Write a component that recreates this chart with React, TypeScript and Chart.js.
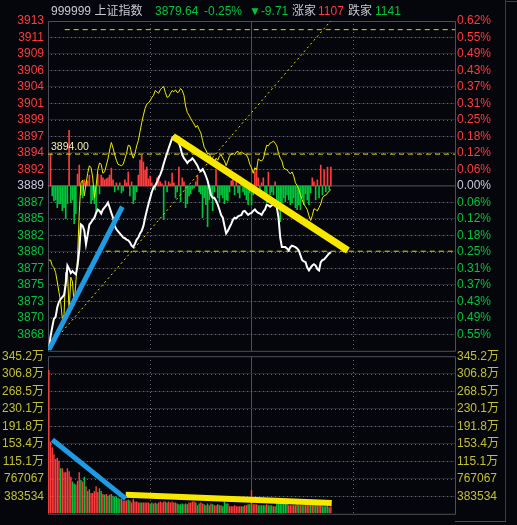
import React, { useEffect, useRef } from 'react';
import { Chart, registerables } from 'chart.js';

Chart.register(...registerables);

// ---------------- data ----------------
const PREV_CLOSE = 3889.35;
const RANGE_PCT = 0.62;
const X_MIN = -0.5;
const X_MAX = 240.5;

const priceTickLabels = ['3913', '3911', '3909', '3906', '3904', '3901', '3899', '3897', '3894', '3892', '3889', '3887', '3885', '3882', '3880', '3877', '3875', '3873', '3870', '3868', ''];
const pctTickLabels = ['0.62%', '0.55%', '0.49%', '0.43%', '0.37%', '0.31%', '0.25%', '0.18%', '0.12%', '0.06%', '0.00%', '0.06%', '0.12%', '0.18%', '0.25%', '0.31%', '0.37%', '0.43%', '0.49%', '0.55%', ''];
const VOL_STEP = 383534;
const volTickLabels = ['345.2万', '306.8万', '268.5万', '230.1万', '191.8万', '153.4万', '115.1万', '767067', '383534', ''];
const MOM_LIMIT = 166;
const timeGridDotted = [60, 180];
const timeGridSolid = [120];

// weighted index (white)
const indexPrice = [
  3865.4, 3867.3, 3868.7, 3869.9, 3870.2, 3871.6, 3872.4, 3872.8, 3873.1, 3873.4,
  3875.0, 3877.7, 3877.2, 3876.6, 3876.9, 3876.6, 3876.4, 3877.7, 3879.9, 3883.7,
  3883.5, 3882.8, 3880.8, 3882.2, 3883.7, 3884.0, 3884.4, 3884.7, 3885.4, 3885.9,
  3885.7, 3885.3, 3885.9, 3886.2, 3886.5, 3886.9, 3886.2, 3885.4, 3884.7, 3883.5,
  3883.0, 3882.7, 3882.4, 3882.1, 3881.8, 3881.7, 3881.5, 3881.4, 3881.1, 3880.6,
  3880.4, 3880.9, 3881.5, 3881.8, 3882.4, 3882.8, 3883.5, 3884.7, 3885.7, 3886.7,
  3887.6, 3888.5, 3889.1, 3889.4, 3889.9, 3890.5, 3891.0, 3891.7, 3892.6, 3893.4,
  3894.1, 3894.9, 3895.6, 3896.3, 3896.6, 3896.6, 3896.3, 3895.6, 3894.9, 3893.9,
  3893.4, 3893.1, 3892.7, 3893.0, 3893.1, 3893.4, 3893.1, 3892.7, 3892.3, 3891.7,
  3891.5, 3891.8, 3891.4, 3890.8, 3890.1, 3889.1, 3888.0, 3887.6, 3887.6, 3887.2,
  3886.6, 3885.9, 3885.1, 3884.7, 3883.5, 3882.4, 3882.8, 3883.3, 3883.8, 3884.4,
  3884.7, 3884.6, 3884.9, 3885.0, 3885.1, 3885.6, 3885.7, 3885.4, 3885.1, 3885.3,
  3885.4, 3885.7, 3885.9, 3885.6, 3885.4, 3885.3, 3885.1, 3885.6, 3885.9, 3886.6,
  3886.5, 3886.3, 3886.5, 3886.6, 3886.5, 3886.2, 3884.7, 3881.8, 3880.4, 3880.4,
  3880.4, 3880.2, 3879.9, 3880.4, 3880.6, 3880.5, 3880.4, 3880.2, 3879.9, 3879.2,
  3878.5, 3878.3, 3878.2, 3877.4, 3877.0, 3877.4, 3877.7, 3877.9, 3877.7, 3877.2,
  3877.0, 3878.2, 3878.5, 3878.6, 3878.9, 3879.2, 3879.5, 3879.64,
];

// unweighted index (yellow)
const unweightedPrice = [
  3878.5, 3878.5, 3877.7, 3877.4, 3876.7, 3875.3, 3873.8, 3872.4, 3869.9, 3870.5,
  3876.7, 3877.0, 3870.9, 3876.0, 3875.3, 3871.9, 3875.3, 3878.9, 3885.4, 3889.8,
  3890.2, 3887.9, 3889.6, 3891.2, 3892.3, 3892.0, 3890.5, 3887.6, 3889.4, 3891.7,
  3892.7, 3892.5, 3891.2, 3891.4, 3892.3, 3893.3, 3894.6, 3895.7, 3894.9, 3893.9,
  3893.1, 3892.5, 3892.4, 3892.3, 3892.5, 3893.3, 3894.1, 3895.3, 3895.2, 3894.1,
  3893.4, 3894.1, 3895.2, 3896.0, 3897.3, 3898.6, 3899.7, 3900.7, 3901.3, 3901.5,
  3901.8, 3902.3, 3902.6, 3903.3, 3903.1, 3902.9, 3903.4, 3903.7, 3903.9, 3903.0,
  3902.3, 3902.4, 3902.9, 3903.3, 3903.1, 3903.4, 3903.0, 3903.1, 3903.6, 3903.3,
  3902.6, 3901.0, 3900.1, 3899.7, 3899.2, 3898.8, 3898.4, 3897.9, 3898.2, 3897.6,
  3897.1, 3896.0, 3895.0, 3894.6, 3894.0, 3894.1, 3893.4, 3892.4, 3892.7, 3893.4,
  3893.1, 3893.7, 3893.9, 3893.4, 3893.0, 3892.3, 3893.0, 3893.7, 3894.0, 3894.1,
  3893.9, 3894.3, 3894.4, 3894.1, 3894.3, 3894.1, 3894.0, 3893.9, 3893.4, 3892.5,
  3892.0, 3891.2, 3892.0, 3891.7, 3893.3, 3893.1, 3893.0, 3893.3, 3894.4, 3895.3,
  3895.2, 3895.6, 3895.7, 3895.9, 3895.6, 3895.2, 3894.1, 3893.4, 3893.0, 3892.0,
  3891.8, 3891.7, 3891.4, 3891.1, 3891.4, 3890.8, 3889.8, 3889.4, 3888.9, 3888.0,
  3887.3, 3886.7, 3886.3, 3885.9, 3885.0, 3884.3, 3885.0, 3886.0, 3885.9, 3885.7,
  3886.2, 3886.7, 3887.6, 3887.9, 3888.0, 3888.3, 3888.6, 3888.8,
];

// buy/sell momentum bars (red up, green down)
const momentum = [
  0, 32, -10, -15, -14, -22, -18, -18, -25, -22,
  -33, -18, 56, -17, -14, -38, -28, 12, 21, -9,
  -12, 6, 4, 5, 11, -18, -14, -18, -28, 12,
  -8, 11, 8, 6, 7, 8, 11, 18, 6, -6,
  3, -4, 3, -7, -5, 6, 3, 14, -10, 4,
  -18, -14, -6, 11, 26, 31, 24, 16, 19, 7,
  10, 3, -3, -4, 8, 10, 4, 2, -34, 5,
  -6, 4, 2, 13, 3, -12, -6, 19, -16, 8,
  4, -22, -18, -10, -8, -3, -2, 4, 11, -6,
  -8, -32, -12, -19, -41, -14, -9, -25, -6, 16,
  -12, -16, -9, -12, -18, -14, -15, -6, 5, 10,
  -9, 5, -7, -12, 4, -6, -9, -14, -19, -7,
  -19, -9, 14, 18, 8, -7, 3, 8, -14, -17,
  14, -9, -6, -9, 4, -14, -21, -36, -17, -12,
  -16, -9, -14, -19, -17, -12, -22, -24, -19, -24,
  -12, -19, -8, -14, -19, -7, 8, 4, -14, 6,
  -12, 21, -9, 16, -6, 19, -4, 19,
];

// volume per minute (hands)
const volume = [
  3151000, 1576000, 1451000, 1306000, 1202000, 1223000, 1161000, 995000, 995000, 912000,
  912000, 995000, 933000, 809000, 705000, 663000, 643000, 726000, 912000, 746000,
  705000, 809000, 601000, 498000, 539000, 456000, 456000, 498000, 601000, 477000,
  560000, 498000, 435000, 415000, 435000, 394000, 415000, 435000, 394000, 373000,
  373000, 352000, 332000, 332000, 290000, 290000, 290000, 311000, 290000, 249000,
  332000, 270000, 270000, 249000, 249000, 249000, 249000, 249000, 249000, 249000,
  228000, 249000, 228000, 249000, 228000, 249000, 270000, 249000, 270000, 270000,
  249000, 270000, 249000, 270000, 249000, 249000, 228000, 207000, 207000, 228000,
  207000, 228000, 207000, 249000, 249000, 270000, 270000, 249000, 187000, 228000,
  249000, 228000, 207000, 187000, 228000, 187000, 228000, 207000, 187000, 187000,
  207000, 187000, 187000, 166000, 270000, 228000, 228000, 166000, 166000, 166000,
  187000, 166000, 166000, 166000, 166000, 166000, 187000, 187000, 207000, 207000,
  518000, 207000, 207000, 207000, 187000, 187000, 187000, 187000, 187000, 207000,
  187000, 187000, 187000, 166000, 166000, 249000, 249000, 249000, 249000, 249000,
  249000, 249000, 187000, 187000, 187000, 187000, 187000, 207000, 187000, 187000,
  187000, 187000, 187000, 187000, 187000, 187000, 187000, 187000, 187000, 187000,
  187000, 187000, 166000, 166000, 166000, 187000, 145000, 166000,
];

// 1 = up minute (red), 0 = down minute (green)
const volumeUp = [
  1, 1, 1, 1, 1, 1, 1, 0, 1, 1,
  1, 1, 1, 1, 0, 0, 1, 1, 1, 0,
  1, 0, 1, 1, 0, 1, 1, 1, 1, 1,
  0, 0, 1, 0, 1, 0, 0, 1, 0, 0,
  0, 0, 1, 0, 1, 1, 1, 0, 1, 1,
  1, 1, 1, 1, 0, 1, 1, 1, 1, 1,
  0, 0, 1, 1, 0, 1, 1, 1, 1, 1,
  0, 1, 1, 1, 1, 0, 1, 0, 0, 0,
  1, 0, 0, 1, 1, 1, 1, 0, 1, 0,
  1, 1, 0, 1, 0, 0, 1, 0, 1, 1,
  0, 0, 1, 0, 0, 0, 1, 1, 1, 1,
  1, 1, 1, 1, 1, 0, 1, 1, 0, 0,
  1, 1, 1, 1, 0, 0, 0, 0, 0, 1,
  0, 0, 1, 0, 1, 0, 0, 0, 0, 0,
  0, 0, 1, 1, 1, 1, 0, 1, 0, 1,
  0, 1, 0, 1, 1, 0, 1, 0, 1, 0,
  1, 1, 0, 0, 0, 1, 0, 1,
];

// user-drawn annotation lines: [minuteIndex, value]
const MARK_LEVEL = 3894.0;
const levelLine = [[-0.5, 3894.0], [240.5, 3894.0]];
const upperDashLine = [[9.4, 3912.2], [240.5, 3912.2]];
const lowerDashLine = [[33.7, 3879.8], [240.5, 3879.8]];
const diagonalLine = [[7.8, 3868.0], [167.7, 3913.7]];
const blueTrend = [[0.1, 3865.4], [43.5, 3886.3]];
const yellowTrend = [[73.5, 3896.6], [177.1, 3879.9]];
const volBlueTrend = [[2.1, 1623000], [45.5, 332000]];
const volYellowTrend = [[45.5, 415000], [167.5, 238000]];

// ---------------- styles ----------------
const BG = '#05050c';
const GRID = '#64646f';
const GRID_FAINT = '#24242c';
const FRAME = '#4e4e56';
const RED = '#ff3b3b';
const GREEN = '#00c43c';
const NEUTRAL = '#c8c8dc';
const VOL_LABEL = '#c0c032';
const FONT = "'Liberation Sans', Arial, 'Noto Sans CJK SC', sans-serif";

const toXY = (pairs: number[][]) => pairs.map(([x, y]) => ({ x, y }));

const framePlugin = {
  id: 'frame',
  beforeDatasetsDraw(chart: any) {
    const { ctx, chartArea } = chart;
    const { left, right, top, bottom } = chartArea;
    ctx.save();
    ctx.strokeStyle = FRAME;
    ctx.lineWidth = 1;
    ctx.beginPath();
    ctx.moveTo(left + 0.5, top + 0.5);
    ctx.lineTo(right + 0.5, top + 0.5);
    ctx.lineTo(right + 0.5, bottom + 0.5);
    ctx.lineTo(left + 0.5, bottom + 0.5);
    ctx.closePath();
    ctx.stroke();
    ctx.restore();
  },
};

// dotted grid (single-pixel dots) at the axis tick values and the time quarters
const dottedGridPlugin = (yScaleId: string, yValues: number[]) => ({
  id: 'dottedGrid',
  beforeDatasetsDraw(chart: any) {
    const { ctx, chartArea, scales } = chart;
    const { left, right, top, bottom } = chartArea;
    const yScale = scales[yScaleId];
    const xScale = scales.x;
    ctx.save();
    ctx.fillStyle = GRID;
    yValues.forEach((v) => {
      const y = Math.round(yScale.getPixelForValue(v));
      for (let x = Math.ceil(left) + 3; x < right; x += 4) ctx.fillRect(x, y, 1, 1);
    });
    timeGridDotted.forEach((t) => {
      const x = Math.round(xScale.getPixelForValue(t));
      for (let y = Math.ceil(top) + 3; y < bottom; y += 4) ctx.fillRect(x, y, 1, 1);
    });
    ctx.restore();
  },
});

const timeAxes = () => ({
  x: {
    type: 'linear',
    min: X_MIN,
    max: X_MAX,
    offset: false,
    display: false,
    grid: { display: false, offset: false },
  },
  x2: {
    type: 'linear',
    min: X_MIN,
    max: X_MAX,
    offset: false,
    display: true,
    position: 'bottom',
    ticks: { display: false },
    grid: { color: FRAME, drawTicks: false, lineWidth: 1, offset: false },
    border: { display: false },
    afterBuildTicks: (s: any) => { s.ticks = timeGridSolid.map((v) => ({ value: v })); },
    afterFit: (s: any) => { s.height = 0; },
  },
});

export default function App() {
  const refA = useRef<HTMLCanvasElement | null>(null);
  const refB = useRef<HTMLCanvasElement | null>(null);

  useEffect(() => {
    document.body.style.margin = '0';
    document.body.style.background = BG;

    const step = (PREV_CLOSE * RANGE_PCT) / 100 / 10;
    const pMin = PREV_CLOSE - 10 * step;
    const pMax = PREV_CLOSE + 10 * step;
    const priceTicks = Array.from({ length: 21 }, (_, j) => pMin + j * step);
    const labelColor = (j: number) => (j > 10 ? RED : j === 10 ? NEUTRAL : GREEN);

    const lineDs = (data: any, color: string, width: number, order: number, dash: number[] = []) => ({
      type: 'line',
      data,
      borderColor: color,
      borderWidth: width,
      borderDash: dash,
      pointRadius: 0,
      tension: 0,
      fill: false,
      order,
      xAxisID: 'x',
      yAxisID: 'y',
    });

    const chartA = new Chart(refA.current as HTMLCanvasElement, {
      type: 'line',
      data: {
        datasets: [
          lineDs(toXY(blueTrend), '#1e9be2', 5, 0),
          lineDs(toXY(yellowTrend), '#f8e800', 7, 0),
          lineDs(indexPrice.map((v, i) => ({ x: i, y: v })), '#ffffff', 2, 1),
          lineDs(unweightedPrice.map((v, i) => ({ x: i, y: v })), '#ecec00', 1, 2),
          lineDs(toXY(levelLine), '#e0d800', 1, 3, [5, 4]),
          lineDs(toXY(upperDashLine), '#e0d800', 1, 3, [5, 4]),
          lineDs(toXY(lowerDashLine), '#e0d800', 1, 3, [5, 4]),
          lineDs(toXY(diagonalLine), '#e0d800', 1, 3, [2, 3]),
          lineDs(toXY([[X_MIN, PREV_CLOSE], [X_MAX, PREV_CLOSE]]), '#55555e', 1, 6),
          {
            type: 'bar',
            data: momentum.map((v, i) => ({ x: i, y: v })),
            backgroundColor: (c: any) => ((c.raw && c.raw.y >= 0) ? RED : GREEN),
            borderWidth: 0,
            barThickness: 1,
            order: 5,
            xAxisID: 'x',
            yAxisID: 'yMom',
          } as any,
        ] as any,
      },
      options: {
        responsive: false,
        animation: false,
        events: [],
        layout: { padding: { top: 21, bottom: 7, left: 0, right: 0 } },
        plugins: { legend: { display: false }, tooltip: { enabled: false } },
        scales: {
          ...timeAxes(),
          y: {
            type: 'linear',
            position: 'left',
            min: pMin,
            max: pMax,
            afterBuildTicks: (s: any) => { s.ticks = priceTicks.map((v) => ({ value: v })); },
            afterFit: (s: any) => { s.width = 48; },
            ticks: {
              autoSkip: false,
              padding: 4,
              font: { family: FONT, size: 12 },
              color: (c: any) => labelColor(c.index),
              callback: (_v: any, i: number) => priceTickLabels[20 - i],
            },
            grid: {
              drawOnChartArea: true,
              drawTicks: false,
              lineWidth: 1,
              color: (c: any) => (c.index === 0 || c.index === 10 || c.index === 20 ? 'rgba(0,0,0,0)' : GRID_FAINT),
            },
            border: { display: false },
          },
          yMom: {
            type: 'linear',
            position: 'left',
            display: false,
            min: -MOM_LIMIT,
            max: MOM_LIMIT,
          },
          yPct: {
            type: 'linear',
            position: 'right',
            min: pMin,
            max: pMax,
            afterBuildTicks: (s: any) => { s.ticks = priceTicks.map((v) => ({ value: v })); },
            afterFit: (s: any) => { s.width = 62; },
            ticks: {
              autoSkip: false,
              padding: 2,
              font: { family: FONT, size: 12 },
              color: (c: any) => labelColor(c.index),
              callback: (_v: any, i: number) => pctTickLabels[20 - i],
            },
            grid: { drawOnChartArea: false, drawTicks: false },
            border: { display: false },
          },
        } as any,
      },
      plugins: [framePlugin, dottedGridPlugin('y', priceTicks.filter((_, j) => j !== 0 && j !== 10 && j !== 20))],
    } as any);

    const volTicks = Array.from({ length: 10 }, (_, k) => k * VOL_STEP);
    const volMax = 9 * VOL_STEP;

    const chartB = new Chart(refB.current as HTMLCanvasElement, {
      type: 'bar',
      data: {
        datasets: [
          {
            type: 'line',
            data: toXY(volBlueTrend),
            borderColor: '#1e9be2',
            borderWidth: 5,
            pointRadius: 0,
            order: 0,
            xAxisID: 'x',
            yAxisID: 'yVol',
          },
          {
            type: 'line',
            data: toXY(volYellowTrend),
            borderColor: '#f8e800',
            borderWidth: 6,
            pointRadius: 0,
            order: 0,
            xAxisID: 'x',
            yAxisID: 'yVol',
          },
          {
            type: 'bar',
            data: volume.map((v, i) => ({ x: i, y: v })),
            backgroundColor: (c: any) => (volumeUp[c.dataIndex] ? RED : GREEN),
            borderWidth: 0,
            barPercentage: 1,
            categoryPercentage: 0.85,
            order: 2,
            xAxisID: 'x',
            yAxisID: 'yVol',
          },
        ] as any,
      },
      options: {
        responsive: false,
        animation: false,
        events: [],
        layout: { padding: { top: 10, bottom: 4, left: 0, right: 0 } },
        plugins: { legend: { display: false }, tooltip: { enabled: false } },
        scales: {
          ...timeAxes(),
          yVol: {
            type: 'linear',
            position: 'left',
            min: 0,
            max: volMax,
            afterBuildTicks: (s: any) => { s.ticks = volTicks.map((v) => ({ value: v })); },
            afterFit: (s: any) => { s.width = 48; },
            ticks: {
              autoSkip: false,
              padding: 4,
              font: { family: FONT, size: 12 },
              color: VOL_LABEL,
              callback: (_v: any, i: number) => volTickLabels[9 - i],
            },
            grid: {
              drawOnChartArea: true,
              drawTicks: false,
              lineWidth: 1,
              color: (c: any) => (c.index === 0 || c.index === 9 ? 'rgba(0,0,0,0)' : GRID_FAINT),
            },
            border: { display: false },
          },
          yVolR: {
            type: 'linear',
            position: 'right',
            min: 0,
            max: volMax,
            afterBuildTicks: (s: any) => { s.ticks = volTicks.map((v) => ({ value: v })); },
            afterFit: (s: any) => { s.width = 62; },
            ticks: {
              autoSkip: false,
              padding: 2,
              font: { family: FONT, size: 12 },
              color: VOL_LABEL,
              callback: (_v: any, i: number) => volTickLabels[9 - i],
            },
            grid: { drawOnChartArea: false, drawTicks: false },
            border: { display: false },
          },
        } as any,
      },
      plugins: [framePlugin, dottedGridPlugin('yVol', volTicks.filter((_, k) => k !== 0 && k !== 9))],
    } as any);

    return () => {
      chartA.destroy();
      chartB.destroy();
    };
  }, []);

  const txt = (left: number, color: string, s: string) => (
    <span style={{ position: 'absolute', left, top: 4, color, whiteSpace: 'nowrap', lineHeight: '14px' }}>{s}</span>
  );

  return (
    <div style={{ position: 'relative', width: 517, height: 525, background: BG, overflow: 'hidden', fontFamily: FONT, fontSize: 12 }}>
      <canvas ref={refA} width={517} height={362} style={{ position: 'absolute', left: 0, top: 0 }} />
      <canvas ref={refB} width={517} height={180} style={{ position: 'absolute', left: 0, top: 345 }} />
      {txt(51, '#c8c8d0', '999999 上证指数')}
      {txt(155, GREEN, '3879.64')}
      {txt(204, GREEN, '-0.25%')}
      {txt(249, GREEN, '▼-9.71')}
      {txt(292, '#c8c8d0', '涨家')}
      {txt(318, RED, '1107')}
      {txt(348, '#c8c8d0', '跌家')}
      {txt(375, GREEN, '1141')}
      <span style={{ position: 'absolute', left: 51, top: 140, color: '#f0f0b0', fontFamily: FONT, fontSize: 10.5, lineHeight: '12px', whiteSpace: 'nowrap' }}>
        {MARK_LEVEL.toFixed(2)}
      </span>
      <div style={{ position: 'absolute', left: 505, top: 0, width: 1, height: 522, background: '#3c3c44' }} />
      <div style={{ position: 'absolute', left: 505, top: 1, width: 12, height: 1, background: '#3c3c44' }} />
      <div style={{ position: 'absolute', left: 455, top: 521, width: 51, height: 1, background: FRAME }} />
    </div>
  );
}
